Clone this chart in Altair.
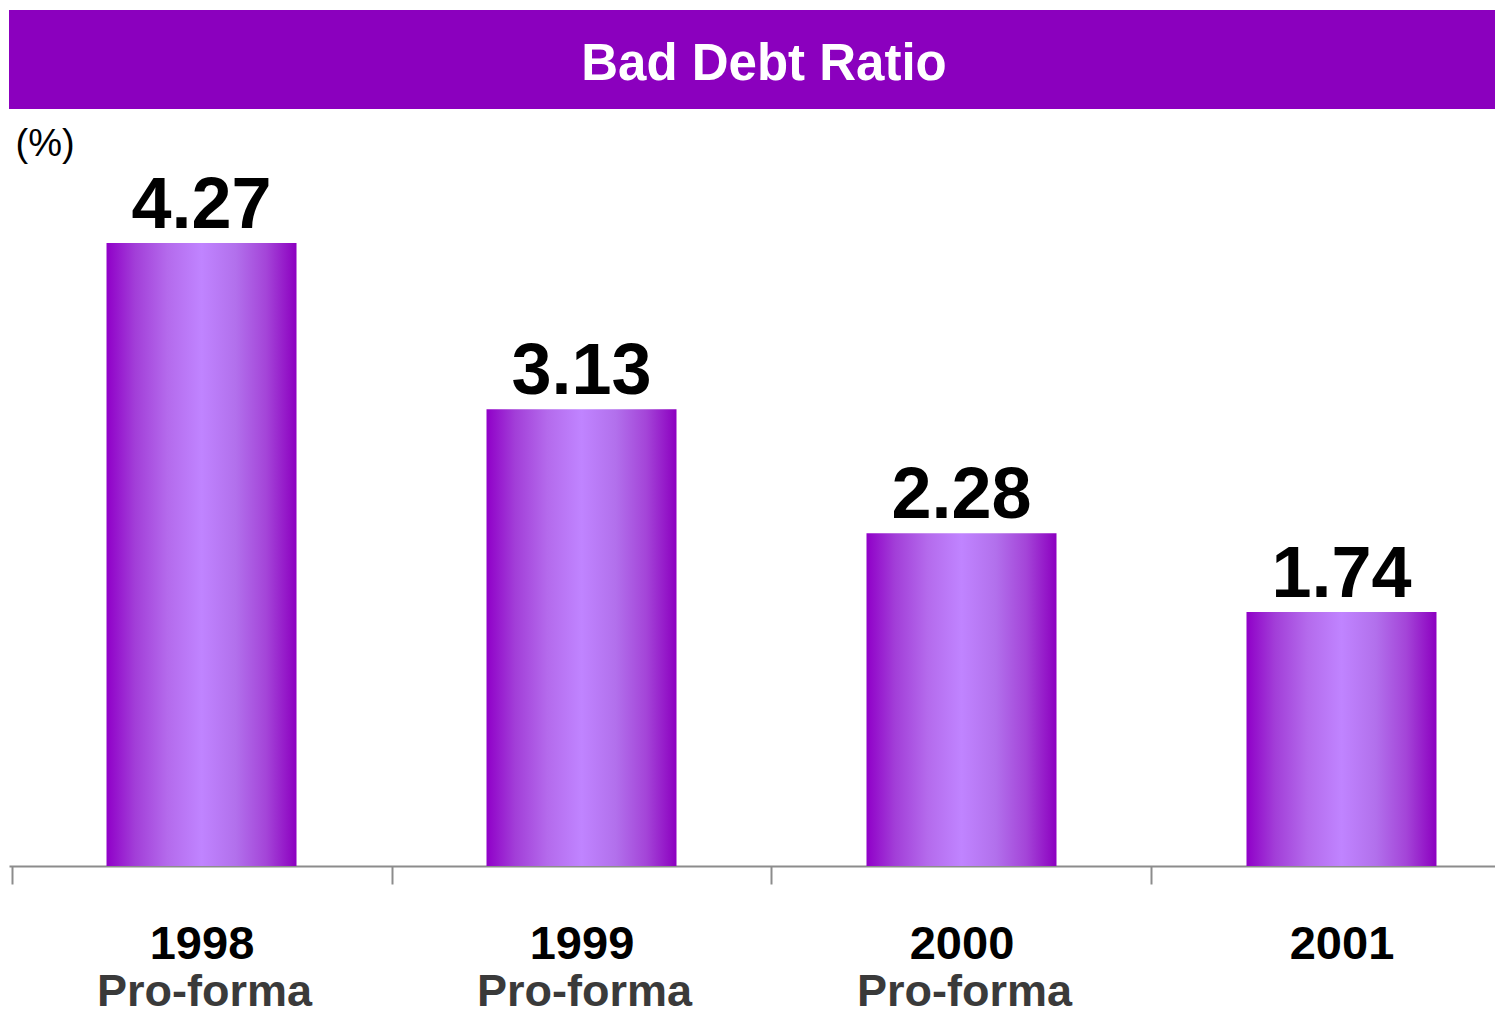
import altair as alt
import pandas as pd

years = ["1998", "1999", "2000", "2001"]
sublabels = ["Pro-forma", "Pro-forma", "Pro-forma", ""]
values = [4.27, 3.13, 2.28, 1.74]
title_text = "Bad Debt Ratio"
unit_label = "(%)"

df = pd.DataFrame({"year": years, "sub": sublabels, "value": values})
FONT = "Liberation Sans"

grad = alt.Gradient(
    gradient="linear", x1=0, x2=1, y1=0, y2=0,
    stops=[
        alt.GradientStop(color="#9000C8", offset=0),
        alt.GradientStop(color="#A23ED8", offset=0.15),
        alt.GradientStop(color="#B46AEC", offset=0.32),
        alt.GradientStop(color="#C084FF", offset=0.5),
        alt.GradientStop(color="#B270EC", offset=0.68),
        alt.GradientStop(color="#A445D8", offset=0.84),
        alt.GradientStop(color="#8C00C0", offset=1),
    ],
)

xenc = alt.X(
    "year:N", sort=years,
    scale=alt.Scale(paddingInner=0.5, paddingOuter=0.2053, align=0.625),
    axis=alt.Axis(
        title=None, labelAngle=0, labelFont=FONT, labelFontSize=47,
        labelFontWeight="bold", labelColor="black", labelBaseline="alphabetic",
        labelPadding=74, tickSize=18, tickColor="#8c8c8c", tickWidth=2,
        domainColor="#8c8c8c", domainWidth=2, tickOffset=-190, labelOffset=190,
        grid=False,
    ),
)

yenc = alt.Y(
    "value:Q",
    scale=alt.Scale(domain=[0, 5.188], nice=False, zero=True),
    axis=alt.Axis(
        domain=False, ticks=False, labels=False, grid=False, title=unit_label,
        titleAngle=0, titleX=6, titleY=46, titleAlign="left",
        titleBaseline="alphabetic", titleFont=FONT, titleFontSize=38,
        titleFontWeight="normal", titleColor="black",
    ),
)

base = alt.Chart(df)
bars = base.mark_bar(color=grad).encode(x=xenc, y=yenc)
vals = base.mark_text(
    font=FONT, fontSize=72, fontWeight="bold", color="black",
    baseline="alphabetic", dy=-15,
).encode(x=alt.X("year:N", sort=years), y="value:Q",
         text=alt.Text("value:Q", format=".2f"))
subs = base.mark_text(
    font=FONT, fontSize=45, fontWeight="bold", color="#3a3a3a",
    baseline="alphabetic", dx=3,
).encode(x=alt.X("year:N", sort=years), y=alt.value(897), text="sub:N")

main = alt.layer(bars, vals, subs).properties(width=1486, height=757)

banner = alt.Chart(pd.DataFrame({"t": [title_text]})).mark_text(
    font=FONT, fontSize=51, fontWeight="bold", color="white",
    baseline="alphabetic", align="center",
).encode(text="t:N", x=alt.value(755), y=alt.value(70)).properties(
    width=1486, height=99,
    view=alt.ViewBackground(fill="#8B00BE", strokeWidth=0),
)

chart = alt.vconcat(banner, main, spacing=0).properties(
    padding={"left": 1, "top": 2, "right": 0, "bottom": 0}
).configure_view(strokeWidth=0)

chart.save("out.html", embed_options={"renderer": "svg", "actions": False})
